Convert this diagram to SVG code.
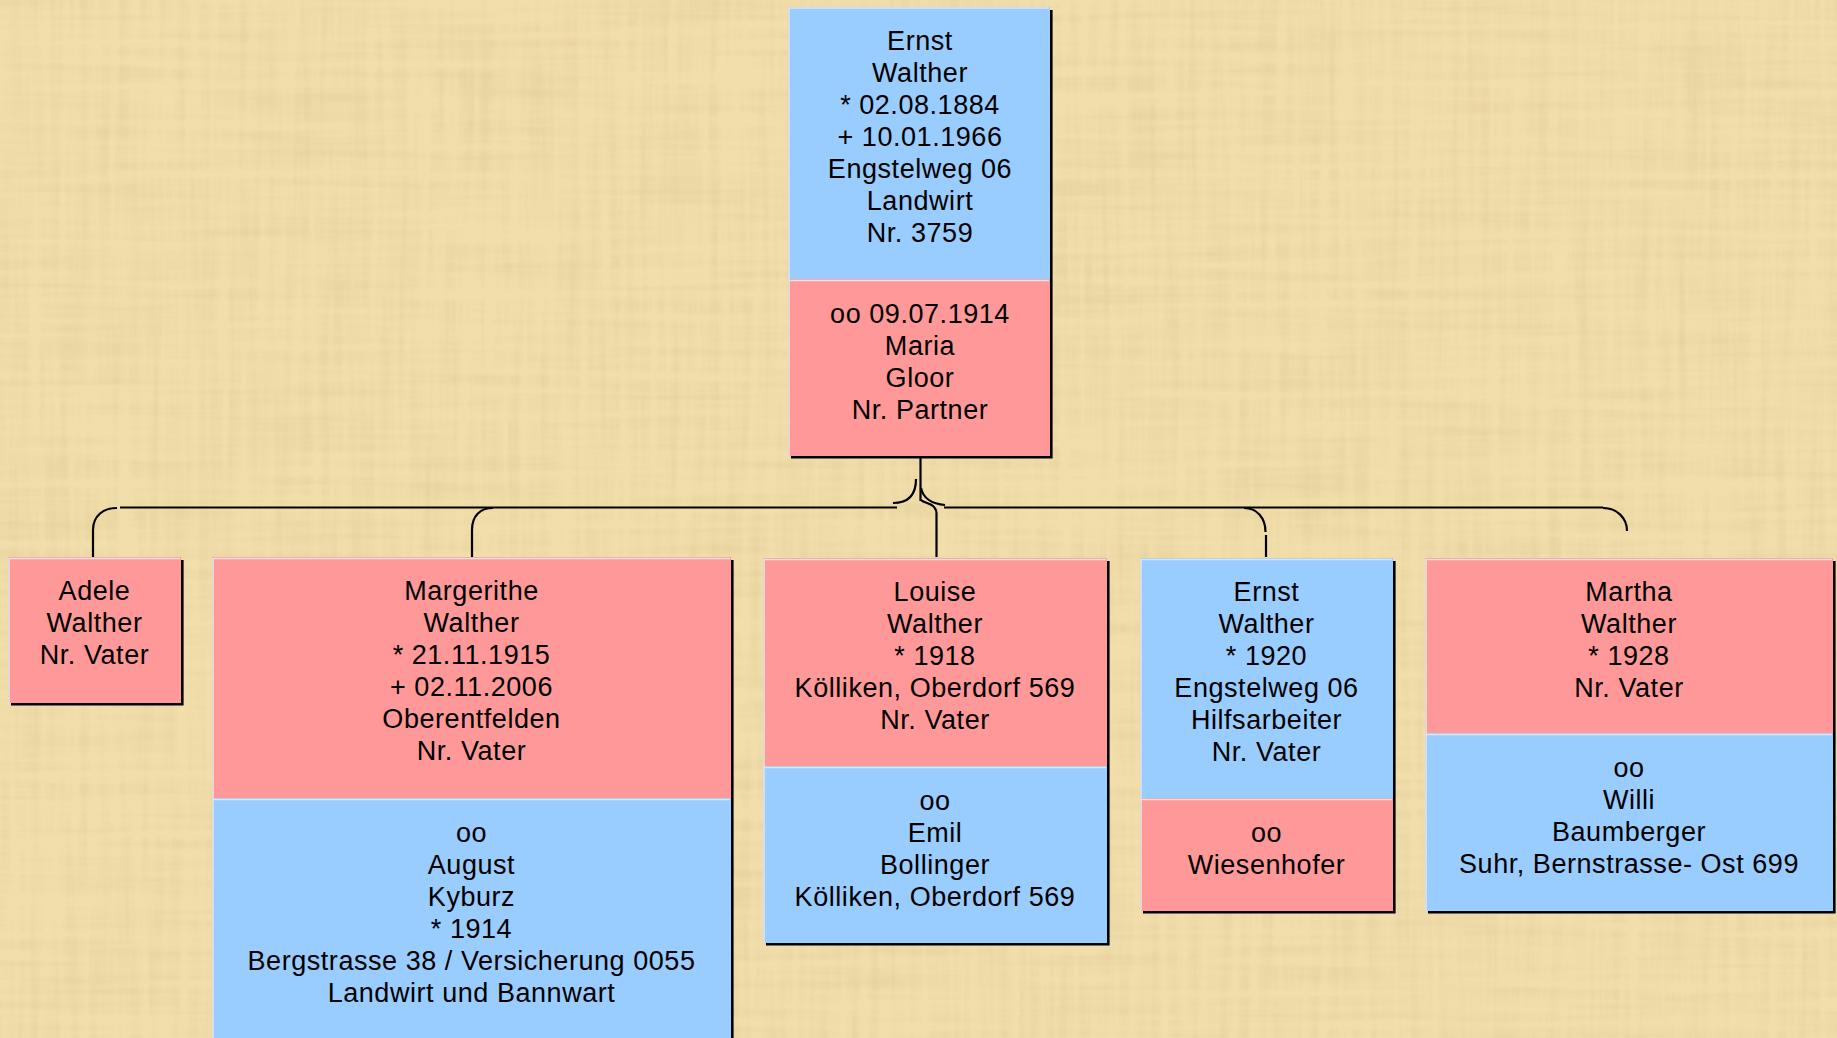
<svg xmlns="http://www.w3.org/2000/svg" width="1837" height="1038" viewBox="0 0 1837 1038">
<style>
.pink{fill:#FF9999}
.blue{fill:#99CCFF}
.hl{stroke:#E4E4E4;stroke-width:1.6;fill:none}
.sh{stroke:#000;stroke-width:2.6;fill:none}
.t{font-family:"Liberation Sans",Arial,sans-serif;font-size:27px;fill:#000;text-anchor:middle;letter-spacing:0.55px}
.c{stroke:#000;stroke-width:2.2;fill:none}
</style>
<defs>
<filter id="paper" x="0" y="0" width="1837" height="1038" filterUnits="userSpaceOnUse">
<feTurbulence type="fractalNoise" baseFrequency="0.005 0.1" numOctaves="3" seed="4" result="n1"/>
<feTurbulence type="fractalNoise" baseFrequency="0.1 0.005" numOctaves="3" seed="9" result="n2"/>
<feComposite in="n1" in2="n2" operator="arithmetic" k1="0" k2="0.5" k3="0.5" k4="0" result="n"/>
<feColorMatrix in="n" type="matrix" values="0 0 0 0 0.80  0 0 0 0 0.65  0 0 0 0 0.34  2.4 0 0 0 -0.95" result="dark"/>
<feFlood flood-color="#F1DEAB" result="base"/>
<feComposite in="dark" in2="base" operator="over"/>
</filter>
</defs>
<rect x="0" y="0" width="1837" height="1038" fill="#EAD49D" filter="url(#paper)"/>

<g id="connectors">
<path class="c" d="M920.5,456 V501"/>
<path class="c" d="M916,479 C916,495 908,503 893,503"/>
<path class="c" d="M897,507.5 H120"/>
<path class="c" d="M921,488 C923,498 932,504 945,505"/>
<path class="c" d="M944,507.5 H1603"/>
<path class="c" d="M921,500 C924,503 930,503 933,506 C936,509 936.5,511 936.5,513 V557"/>
<path class="c" d="M117,508 C103,508 93,516 93,530 V557"/>
<path class="c" d="M493,508 C480,508 472,516 472,530 V557"/>
<path class="c" d="M1244,508 C1257,508 1265.5,518 1265.5,532"/>
<path class="c" d="M1266,535 V557"/>
<path class="c" d="M1603,508 C1617,508 1627,518 1627,531"/>
</g>

<g id="node-ernst-walther-1884">
<rect class="blue" x="788" y="7" width="262" height="272"/>
<rect class="pink" x="788" y="279" width="262" height="177"/>
<path class="hl" d="M789,456 V8 H1049"/>
<path class="hl" d="M789,280.5 H1049"/>
<path class="sh" d="M1051.3,10 V457.3 H791"/>
<text class="t"><tspan x="920" y="50">Ernst</tspan><tspan x="920" y="82">Walther</tspan><tspan x="920" y="114">* 02.08.1884</tspan><tspan x="920" y="146">+ 10.01.1966</tspan><tspan x="920" y="178">Engstelweg 06</tspan><tspan x="920" y="210">Landwirt</tspan><tspan x="920" y="242">Nr. 3759</tspan></text>
<text class="t"><tspan x="920" y="323">oo 09.07.1914</tspan><tspan x="920" y="355">Maria</tspan><tspan x="920" y="387">Gloor</tspan><tspan x="920" y="419">Nr. Partner</tspan></text>
</g>

<g id="node-adele">
<rect class="pink" x="8" y="557" width="173" height="146"/>
<path class="hl" d="M9,703 V558.5 H180"/>
<path class="sh" d="M182.3,560 V704.3 H11"/>
<text class="t"><tspan x="94.5" y="600">Adele</tspan><tspan x="94.5" y="632">Walther</tspan><tspan x="94.5" y="664">Nr. Vater</tspan></text>
</g>

<g id="node-margerithe">
<rect class="pink" x="212" y="557" width="519" height="241"/>
<rect class="blue" x="212" y="798" width="519" height="250"/>
<path class="hl" d="M213,1040 V558.5 H730"/>
<path class="hl" d="M213,799.5 H730"/>
<path class="sh" d="M732.3,560 V1045"/>
<text class="t"><tspan x="471.5" y="600">Margerithe</tspan><tspan x="471.5" y="632">Walther</tspan><tspan x="471.5" y="664">* 21.11.1915</tspan><tspan x="471.5" y="696">+ 02.11.2006</tspan><tspan x="471.5" y="728">Oberentfelden</tspan><tspan x="471.5" y="760">Nr. Vater</tspan></text>
<text class="t"><tspan x="471.5" y="842">oo</tspan><tspan x="471.5" y="874">August</tspan><tspan x="471.5" y="906">Kyburz</tspan><tspan x="471.5" y="938">* 1914</tspan><tspan x="471.5" y="970">Bergstrasse 38 / Versicherung 0055</tspan><tspan x="471.5" y="1002">Landwirt und Bannwart</tspan></text>
</g>

<g id="node-louise">
<rect class="pink" x="763" y="558" width="344" height="208"/>
<rect class="blue" x="763" y="766" width="344" height="177"/>
<path class="hl" d="M764,943 V559.5 H1106"/>
<path class="hl" d="M764,767.5 H1106"/>
<path class="sh" d="M1108.3,561 V944.3 H766"/>
<text class="t"><tspan x="935" y="601">Louise</tspan><tspan x="935" y="633">Walther</tspan><tspan x="935" y="665">* 1918</tspan><tspan x="935" y="697">Kölliken, Oberdorf 569</tspan><tspan x="935" y="729">Nr. Vater</tspan></text>
<text class="t"><tspan x="935" y="810">oo</tspan><tspan x="935" y="842">Emil</tspan><tspan x="935" y="874">Bollinger</tspan><tspan x="935" y="906">Kölliken, Oberdorf 569</tspan></text>
</g>

<g id="node-ernst-1920">
<rect class="blue" x="1140" y="558" width="253" height="240"/>
<rect class="pink" x="1140" y="798" width="253" height="113"/>
<path class="hl" d="M1141,911 V559.5 H1392"/>
<path class="hl" d="M1141,799.5 H1392"/>
<path class="sh" d="M1394.3,561 V912.3 H1143"/>
<text class="t"><tspan x="1266.5" y="601">Ernst</tspan><tspan x="1266.5" y="633">Walther</tspan><tspan x="1266.5" y="665">* 1920</tspan><tspan x="1266.5" y="697">Engstelweg 06</tspan><tspan x="1266.5" y="729">Hilfsarbeiter</tspan><tspan x="1266.5" y="761">Nr. Vater</tspan></text>
<text class="t"><tspan x="1266.5" y="842">oo</tspan><tspan x="1266.5" y="874">Wiesenhofer</tspan></text>
</g>

<g id="node-martha">
<rect class="pink" x="1425" y="558" width="408" height="175"/>
<rect class="blue" x="1425" y="733" width="408" height="178"/>
<path class="hl" d="M1426,911 V559.5 H1832"/>
<path class="hl" d="M1426,734.5 H1832"/>
<path class="sh" d="M1834.3,561 V912.3 H1428"/>
<text class="t"><tspan x="1629" y="601">Martha</tspan><tspan x="1629" y="633">Walther</tspan><tspan x="1629" y="665">* 1928</tspan><tspan x="1629" y="697">Nr. Vater</tspan></text>
<text class="t"><tspan x="1629" y="777">oo</tspan><tspan x="1629" y="809">Willi</tspan><tspan x="1629" y="841">Baumberger</tspan><tspan x="1629" y="873">Suhr, Bernstrasse- Ost 699</tspan></text>
</g>
</svg>
